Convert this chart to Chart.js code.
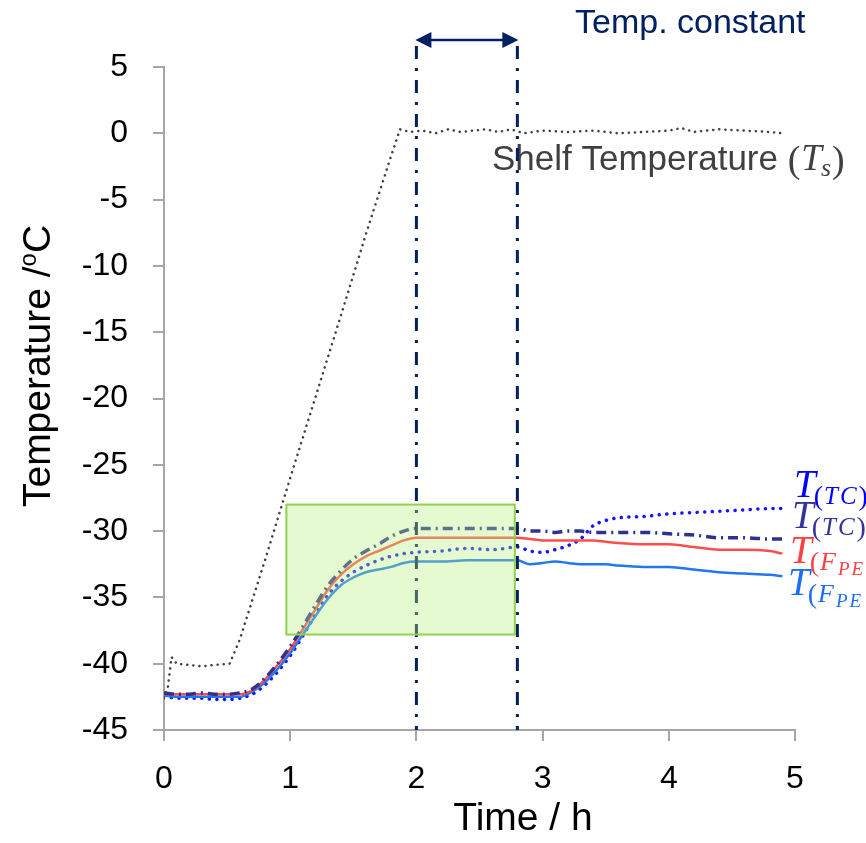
<!DOCTYPE html>
<html>
<head>
<meta charset="utf-8">
<script src="https://cdn.jsdelivr.net/npm/chart.js@4.4.0/dist/chart.umd.min.js"></script>
<style>
  html, body { margin: 0; padding: 0; background: #fff; }
  #wrap { width: 866px; height: 843px; }
</style>
</head>
<body>
<div id="wrap"><canvas id="myChart" width="866" height="843"></canvas></div>
<script>
// time (h) for the sample probes
const timeSample = [0, 0.1, 0.2, 0.3, 0.4, 0.5, 0.6, 0.7, 0.8, 0.9, 1.0, 1.1, 1.2, 1.3, 1.4, 1.5, 1.6, 1.7, 1.8, 1.9,
                    2.0, 2.2, 2.4, 2.6, 2.8, 2.9, 3.0, 3.1, 3.2, 3.3, 3.4, 3.5, 3.6, 3.8, 4.0, 4.2, 4.4, 4.6, 4.8, 4.9];
const tcBlue = [-42.4, -42.6, -42.6, -42.6, -42.7, -42.7, -42.6, -42.3, -41.6, -40.6, -39.4, -37.9, -36.3, -34.8, -33.8, -33.1, -32.6, -32.2, -31.9, -31.7,
                -31.6, -31.5, -31.3, -31.4, -31.2, -31.5, -31.6, -31.4, -31.1, -30.6, -29.6, -29.2, -29.0, -28.9, -28.7, -28.6, -28.5, -28.4, -28.3, -28.3];
const tcNavy = [-42.2, -42.3, -42.3, -42.2, -42.3, -42.3, -42.2, -41.9, -41.1, -40.0, -38.7, -37.2, -35.6, -34.1, -33.0, -32.1, -31.5, -31.0, -30.4, -30.0,
                -29.8, -29.8, -29.8, -29.8, -29.8, -30.0, -30.0, -30.1, -30.0, -30.0, -30.1, -30.1, -30.1, -30.1, -30.2, -30.3, -30.5, -30.5, -30.6, -30.6];
const fpeRed = [-42.3, -42.3, -42.3, -42.3, -42.3, -42.3, -42.3, -42.0, -41.2, -40.1, -38.9, -37.4, -35.9, -34.4, -33.3, -32.5, -31.9, -31.5, -31.1, -30.7,
                -30.5, -30.5, -30.5, -30.5, -30.5, -30.6, -30.7, -30.7, -30.7, -30.7, -30.7, -30.8, -30.9, -31.0, -31.0, -31.2, -31.4, -31.4, -31.5, -31.7];
const fpeBlue = [-42.4, -42.5, -42.5, -42.5, -42.5, -42.5, -42.5, -42.1, -41.4, -40.4, -39.2, -37.8, -36.4, -35.1, -34.1, -33.5, -33.1, -32.9, -32.7, -32.4,
                 -32.3, -32.3, -32.2, -32.2, -32.2, -32.5, -32.4, -32.3, -32.4, -32.5, -32.5, -32.5, -32.6, -32.7, -32.7, -32.9, -33.1, -33.2, -33.3, -33.4];

// shelf temperature
const timeShelf = [0, 0.03, 0.06, 0.1, 0.2, 0.3, 0.4, 0.52, 0.6, 0.8, 1.0, 1.2, 1.4, 1.6, 1.8, 1.87, 1.95, 2.05, 2.15, 2.25, 2.35, 2.45,
                   2.55, 2.65, 2.75, 2.85, 3.0, 3.2, 3.4, 3.6, 3.8, 4.0, 4.1, 4.2, 4.4, 4.6, 4.8, 4.9];
const shelfTemp = [-42.6, -41.8, -39.5, -40.0, -40.1, -40.2, -40.1, -40.0, -38.2, -32.2, -26.0, -19.9, -13.8, -7.6, -1.7, 0.3, 0.1, 0.2, 0.0, 0.3, 0.1, 0.2,
                   0.3, 0.1, 0.3, 0.0, 0.2, 0.1, 0.2, 0.0, 0.1, 0.2, 0.4, 0.1, 0.3, 0.2, 0.1, 0.0];

const xTicks = [0, 1, 2, 3, 4, 5];
const yTicks = [5, 0, -5, -10, -15, -20, -25, -30, -35, -40, -45];

// constant temperature window and highlighted region
const constStart = 2, constEnd = 2.8;
const boxTime = [0.97, 2.78];
const boxTemp = [-28.0, -37.8];

// end labels (y value of the big T baseline)
const endLabels = [
  { value: -27.4, sub: 'TC', color: '#0000ff' },
  { value: -29.8, sub: 'TC', color: '#333399' },
  { value: -32.4, sub: 'FPE', color: '#ff4040' },
  { value: -34.8, sub: 'FPE', color: '#1a6ff5' }
];

function pts(xs, ys) {
  return xs.map((x, i) => ({ x: x, y: ys[i] }));
}

const AXIS = '#a6a6a6';
const SANS = '"Liberation Sans", Arial, sans-serif';
const SERIF = '"Liberation Serif", "DejaVu Serif", serif';

const extras = {
  id: 'extras',
  afterDatasetsDraw(chart) {
    const ctx = chart.ctx;
    const xs = chart.scales.x, ys = chart.scales.y;
    const x1 = xs.getPixelForValue(constStart), x2 = xs.getPixelForValue(constEnd);
    const bottom = chart.chartArea.bottom;

    // shelf label
    ctx.save();
    ctx.fillStyle = '#404040';
    ctx.textBaseline = 'alphabetic';
    ctx.font = '35px ' + SANS;
    let sx = 492, sy = 170;
    ctx.fillText('Shelf Temperature ', sx, sy);
    sx += ctx.measureText('Shelf Temperature ').width;
    ctx.font = '38px ' + SERIF;
    ctx.fillText('(', sx, sy + 2);
    sx += ctx.measureText('(').width + 1;
    ctx.font = 'italic 37px ' + SERIF;
    ctx.fillText('T', sx, sy);
    sx += ctx.measureText('T').width - 1;
    ctx.font = 'italic 26px ' + SERIF;
    ctx.fillText('s', sx, sy + 6);
    sx += ctx.measureText('s').width + 1;
    ctx.font = '38px ' + SERIF;
    ctx.fillText(')', sx, sy + 2);
    ctx.restore();

    // dash-dot lines
    ctx.save();
    ctx.strokeStyle = '#002060';
    ctx.lineWidth = 3;
    ctx.setLineDash([13, 9, 3, 9]);
    [x1, x2].forEach(x => {
      ctx.beginPath();
      ctx.moveTo(x, 46);
      ctx.lineTo(x, bottom);
      ctx.stroke();
    });
    ctx.restore();

    // green region
    const bx1 = xs.getPixelForValue(boxTime[0]), bx2 = xs.getPixelForValue(boxTime[1]);
    const by1 = ys.getPixelForValue(boxTemp[0]), by2 = ys.getPixelForValue(boxTemp[1]);
    ctx.save();
    ctx.fillStyle = 'rgba(180, 240, 120, 0.35)';
    ctx.fillRect(bx1, by1, bx2 - bx1, by2 - by1);
    ctx.strokeStyle = '#92d050';
    ctx.lineWidth = 2;
    ctx.strokeRect(bx1, by1, bx2 - bx1, by2 - by1);
    ctx.restore();

    // arrow
    ctx.save();
    ctx.strokeStyle = '#002060';
    ctx.fillStyle = '#002060';
    ctx.lineWidth = 2.5;
    const ay = 40;
    ctx.beginPath();
    ctx.moveTo(x1 + 10, ay);
    ctx.lineTo(x2 - 10, ay);
    ctx.stroke();
    ctx.beginPath();
    ctx.moveTo(x1 - 1, ay); ctx.lineTo(x1 + 15, ay - 8); ctx.lineTo(x1 + 15, ay + 8); ctx.closePath();
    ctx.fill();
    ctx.beginPath();
    ctx.moveTo(x2 + 1, ay); ctx.lineTo(x2 - 15, ay - 8); ctx.lineTo(x2 - 15, ay + 8); ctx.closePath();
    ctx.fill();

    ctx.font = '34px ' + SANS;
    ctx.textAlign = 'left';
    ctx.textBaseline = 'alphabetic';
    ctx.fillText('Temp. constant', 575, 33);
    ctx.restore();

    // end labels
    ctx.save();
    ctx.textBaseline = 'alphabetic';
    endLabels.forEach((lab, i) => {
      const y = ys.getPixelForValue(lab.value);
      let x = chart.chartArea.right - 1 - i * 2;
      ctx.fillStyle = lab.color;
      ctx.font = 'italic 39px ' + SERIF;
      ctx.fillText('T', x, y);
      x += ctx.measureText('T').width - 2;
      ctx.font = '28px ' + SERIF;
      ctx.fillText('(', x, y + 8);
      x += ctx.measureText('(').width + 1;
      if (lab.sub === 'TC') {
        ctx.font = 'italic 25px ' + SERIF;
        ctx.fillText('T', x, y + 7);
        x += ctx.measureText('T').width + 2;
        ctx.fillText('C', x, y + 7);
        x += ctx.measureText('C').width + 2;
        ctx.font = '28px ' + SERIF;
        ctx.fillText(')', x, y + 8);
      } else {
        ctx.font = 'italic 26px ' + SERIF;
        ctx.fillText('F', x, y + 7);
        x += ctx.measureText('F').width + 2;
        ctx.font = 'italic 19px ' + SERIF;
        ctx.fillText('P', x, y + 12);
        x += ctx.measureText('P').width + 2;
        ctx.fillText('E', x, y + 12);
      }
    });
    ctx.restore();

    // axis titles
    ctx.save();
    ctx.fillStyle = '#000';
    ctx.font = '39px ' + SANS;
    ctx.textAlign = 'center';
    ctx.textBaseline = 'alphabetic';
    ctx.fillText('Time / h', 523, 830);

    ctx.translate(50, 366);
    ctx.rotate(-Math.PI / 2);
    ctx.textAlign = 'left';
    ctx.font = '39px ' + SANS;
    const t1 = 'Temperature /';
    const w1 = ctx.measureText(t1).width;
    ctx.font = '24px ' + SANS;
    const w2 = ctx.measureText('o').width;
    ctx.font = '39px ' + SANS;
    const w3 = ctx.measureText('C').width;
    let tx = -(w1 + w2 + w3) / 2;
    ctx.fillText(t1, tx, 0);
    tx += w1;
    ctx.font = '24px ' + SANS;
    ctx.fillText('o', tx, -14);
    tx += w2;
    ctx.font = '39px ' + SANS;
    ctx.fillText('C', tx, 0);
    ctx.restore();
  }
};

const ctx = document.getElementById('myChart').getContext('2d');
const myChart = new Chart(ctx, {
  type: 'line',
  data: {
    datasets: [
      {
        label: 'Shelf Temperature',
        data: pts(timeShelf, shelfTemp),
        borderColor: '#404040',
        borderWidth: 2.5,
        borderDash: [0.1, 6],
        borderCapStyle: 'round',
        tension: 0
      },
      {
        label: 'T(TC) navy',
        data: pts(timeSample, tcNavy),
        borderColor: '#2e3192',
        borderWidth: 3.5,
        borderDash: [10, 5, 2, 5],
        cubicInterpolationMode: 'monotone'
      },
      {
        label: 'T(FPE) red',
        data: pts(timeSample, fpeRed),
        borderColor: '#ff4d4d',
        borderWidth: 2.5,
        cubicInterpolationMode: 'monotone'
      },
      {
        label: 'T(FPE) blue',
        data: pts(timeSample, fpeBlue),
        borderColor: '#1f78f0',
        borderWidth: 2.5,
        cubicInterpolationMode: 'monotone'
      },
      {
        label: 'T(TC) blue',
        data: pts(timeSample, tcBlue),
        borderColor: '#1414ff',
        borderWidth: 3.5,
        borderDash: [0.1, 7.5],
        borderCapStyle: 'round',
        cubicInterpolationMode: 'monotone'
      }
    ]
  },
  options: {
    responsive: false,
    animation: false,
    layout: { padding: { top: 67, right: 71, left: 0, bottom: 0 } },
    elements: { point: { radius: 0 } },
    plugins: {
      legend: { display: false },
      tooltip: { enabled: false }
    },
    scales: {
      x: {
        type: 'linear',
        min: 0,
        max: 5,
        afterBuildTicks: s => { s.ticks = xTicks.map(v => ({ value: v })); },
        ticks: { color: '#000', font: { family: SANS, size: 32 }, padding: 19, maxRotation: 0 },
        grid: { drawOnChartArea: false, drawTicks: true, tickLength: 11, color: AXIS, lineWidth: 2 },
        border: { color: AXIS, width: 2 },
        afterFit: s => { s.height = 113; }
      },
      y: {
        min: -45,
        max: 5,
        afterBuildTicks: s => { s.ticks = yTicks.map(v => ({ value: v })); },
        ticks: { color: '#000', font: { family: SANS, size: 32 }, padding: 25 },
        grid: { drawOnChartArea: false, drawTicks: true, tickLength: 11, color: AXIS, lineWidth: 2 },
        border: { color: AXIS, width: 2 },
        afterFit: s => { s.width = 164; }
      }
    }
  },
  plugins: [extras]
});
</script>
</body>
</html>
